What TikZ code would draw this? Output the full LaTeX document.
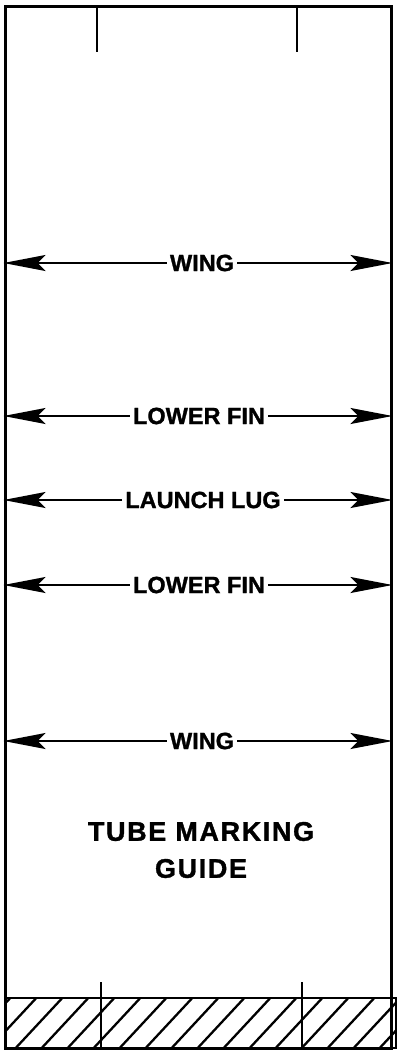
\documentclass[tikz,border=0pt]{standalone}
\usepackage{fontspec}
\newfontfamily\markfont[FakeBold=1.2]{Liberation Sans Bold}
\newfontfamily\titlefont[FakeBold=1.2, LetterSpace=6]{Liberation Sans Bold}
\usetikzlibrary{arrows.meta}
\begin{document}
\begin{tikzpicture}[x=1pt, y=-1pt]
	\tikzstyle{Tube} = [rectangle, draw=black, line width=3pt, inner sep=0pt, minimum width=386pt, minimum height=1042pt]
	\tikzstyle{Label} = [fill=white, inner sep=3pt, font=\markfont\fontsize{23.5}{27}\selectfont]
	\tikzstyle{Title} = [align=center, font=\titlefont\fontsize{27}{37}\selectfont]
	\tikzstyle{Tick} = [line width=2.5pt]
	\tikzstyle{dimarrow} = [line width=2pt, -{Stealth[length=42pt, width=16pt, inset=8pt]}]

	\useasboundingbox (0,0) rectangle (397,1052);
	% tube outline
	\node (tube) [Tube] at (198,527) {};
	% cut-off band at the bottom
	\coordinate (bandtl) at (5,998);
	\coordinate (bandbr) at (396,1048);
	\begin{scope}
		\clip (bandtl) rectangle (bandbr);
		\foreach \x in {-40,-14,...,420}
			\draw [line width=2.3pt] (\x,1052) -- (\x+54,994);
	\end{scope}
	\draw [line width=2.5pt] (bandtl) rectangle (bandbr);
	% ticks
	\draw [Tick] (97,6) -- (97,52);
	\draw [Tick] (297,6) -- (297,52);
	\draw [Tick] (101,982) -- (101,1048);
	\draw [Tick] (302,982) -- (302,1048);
	% marking lines
	\node (wingA) [Label] at (202,263) {WING};
	\node (finA) [Label] at (199,416) {LOWER FIN};
	\node (lug) [Label] at (203,500) {LAUNCH LUG};
	\node (finB) [Label] at (199,585) {LOWER FIN};
	\node (wingB) [Label] at (202,741) {WING};
	\foreach \m in {wingA, finA, lug, finB, wingB} {
		\draw [dimarrow] (\m.west) -- (\m -| tube.west);
		\draw [dimarrow] (\m.east) -- (\m -| tube.east);
	}
	\node (title) [Title] at (201,850) {TUBE MARKING\\GUIDE};
\end{tikzpicture}
\end{document}
